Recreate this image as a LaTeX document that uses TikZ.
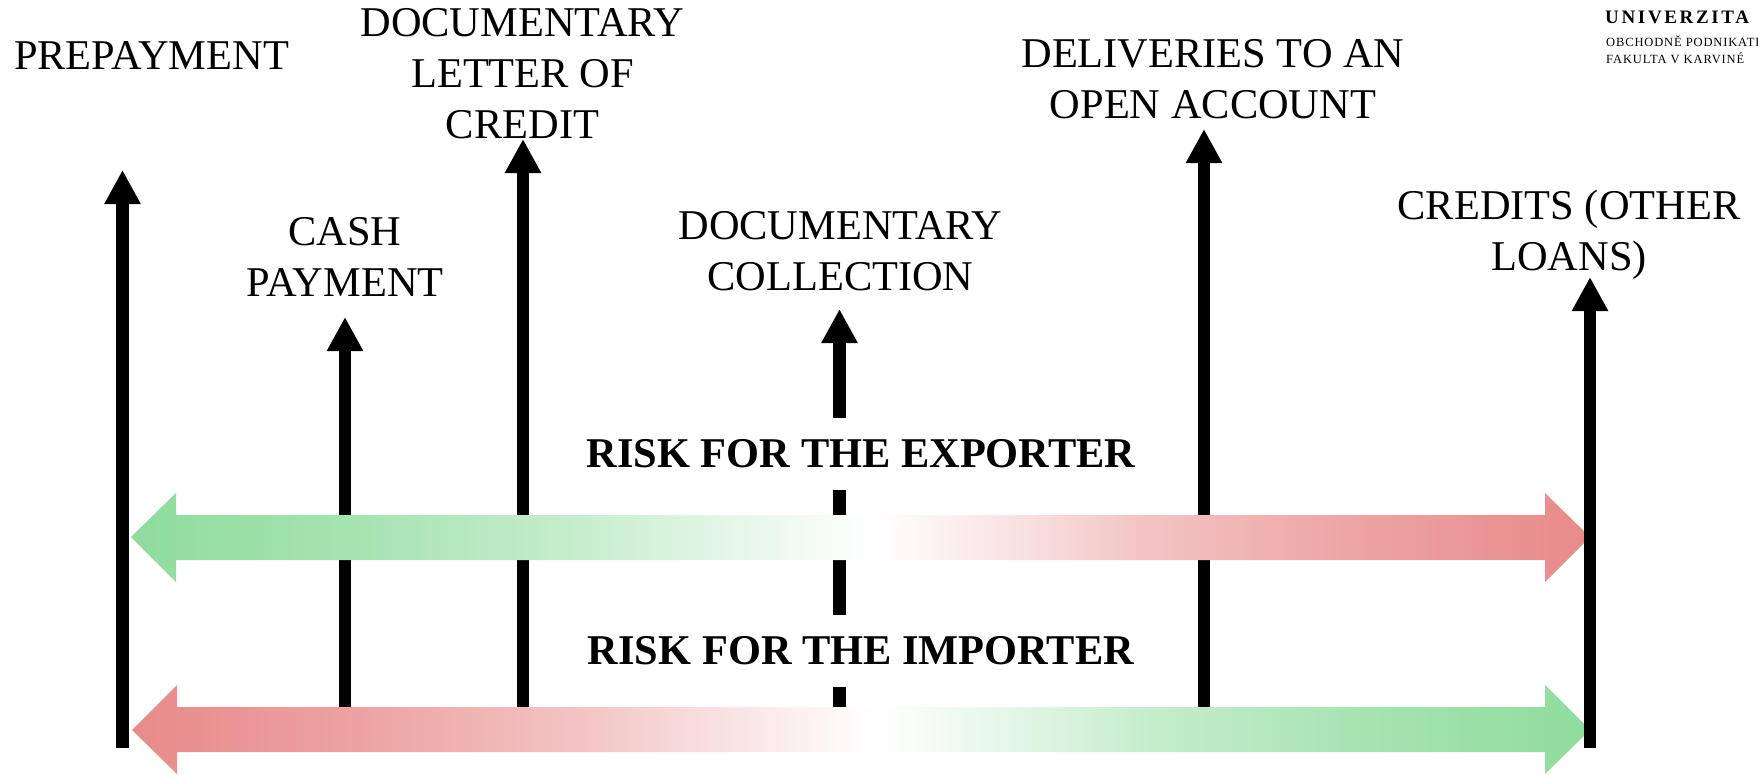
\documentclass[tikz,border=0pt]{standalone}
\usepackage{fontspec}
\setmainfont{Liberation Serif}
\newfontfamily\logofont[LetterSpace=14]{Liberation Serif}
\newfontfamily\logosub[LetterSpace=7]{Liberation Serif}
\usetikzlibrary{arrows.meta}
\definecolor{riskgreen}{HTML}{8FDC9D}
\definecolor{riskred}{HTML}{E88A8A}
\pgfdeclarehorizontalshading{riskgr}{100bp}{
  color(0bp)=(riskgreen); color(25bp)=(riskgreen);
  color(32.5bp)=(riskgreen!80!white); color(40.5bp)=(riskgreen!50!white);
  color(44.5bp)=(riskgreen!29!white); color(50.5bp)=(white);
  color(56bp)=(riskred!29!white); color(59.5bp)=(riskred!50!white);
  color(67.5bp)=(riskred!80!white); color(75bp)=(riskred); color(100bp)=(riskred)}
\pgfdeclarehorizontalshading{riskrg}{100bp}{
  color(0bp)=(riskred); color(25bp)=(riskred);
  color(32.5bp)=(riskred!80!white); color(40.5bp)=(riskred!50!white);
  color(44.5bp)=(riskred!29!white); color(50.5bp)=(white);
  color(56bp)=(riskgreen!29!white); color(59.5bp)=(riskgreen!50!white);
  color(67.5bp)=(riskgreen!80!white); color(75bp)=(riskgreen); color(100bp)=(riskgreen)}
\tikzset{
  x=1pt,y=-1pt,
  method/.style={font=\fontsize{42.4}{51}\selectfont,align=center,inner sep=0pt},
  risk/.style={font=\fontsize{42.4}{50}\bfseries\selectfont,execute at begin node={\spaceskip=10.6pt\relax},fill=white,inner sep=0pt,minimum height=72pt,text width=560pt,align=center},
  bar/.style={line width=12.5pt,-{Triangle[width=34pt,length=34pt]}},
}
\begin{document}
\begin{tikzpicture}
\useasboundingbox (0,0) rectangle (1758,774);
% foot points and tips of the vertical arrows
\coordinate (p0) at (122.5,748);\coordinate (p1) at (122.5,170);
\coordinate (c0) at (345,730);\coordinate (c1) at (345,317);
\coordinate (l0) at (523,730);\coordinate (l1) at (523,139);
\coordinate (d0) at (839.5,730);\coordinate (d1) at (839.5,309);
\coordinate (o0) at (1204,730);\coordinate (o1) at (1204,129);
\coordinate (k0) at (1590,748);\coordinate (k1) at (1590,277);
\draw[bar] (p0) -- (p1);
\draw[bar] (c0) -- (c1);
\draw[bar] (l0) -- (l1);
\draw[bar] (d0) -- (d1);
\draw[bar] (o0) -- (o1);
% double arrows
\shade[shading=riskgr] (131,537) -- (176,493) -- (176,515) -- (1545,515) -- (1545,493) -- (1590,537) -- (1545,582) -- (1545,560) -- (176,560) -- (176,582) -- cycle;
\shade[shading=riskrg] (132,730) -- (177,685) -- (177,707) -- (1545,707) -- (1545,685) -- (1590,730) -- (1545,774) -- (1545,752) -- (177,752) -- (177,774) -- cycle;
\draw[bar] (k0) -- (k1);
% labels
\node[method] (tp) at (151.5,56) {PREPAYMENT};
\node[method] (tc) at (345,257) {CASH\\PAYMENT};
\node[method] (tl) at (522.5,74) {DOCUMENTARY\\LETTER OF\\CREDIT};
\node[method] (td) at (840.5,251) {DOCUMENTARY\\COLLECTION};
\node[method] (to) at (1213,79) {DELIVERIES TO AN\\OPEN ACCOUNT};
\node[method] (tk) at (1569,235) {CREDITS (OTHER\\LOANS)};
\node[risk] (re) at (861,454) {RISK FOR THE EXPORTER};
\node[risk] (ri) at (861,651) {RISK FOR THE IMPORTER};
% logo
\node[anchor=west,inner sep=0pt,font=\logofont\bfseries\fontsize{19}{20}\selectfont] (u) at (1605,17) {UNIVERZITA};
\node[anchor=west,inner sep=0pt,font=\logosub\fontsize{12.5}{14}\selectfont] (f1) at (1606,41) {OBCHODNĚ PODNIKATE};
\node[anchor=west,inner sep=0pt,font=\logosub\fontsize{12.5}{14}\selectfont] (f2) at (1606,58) {FAKULTA V KARVINÉ};
\end{tikzpicture}
\end{document}
